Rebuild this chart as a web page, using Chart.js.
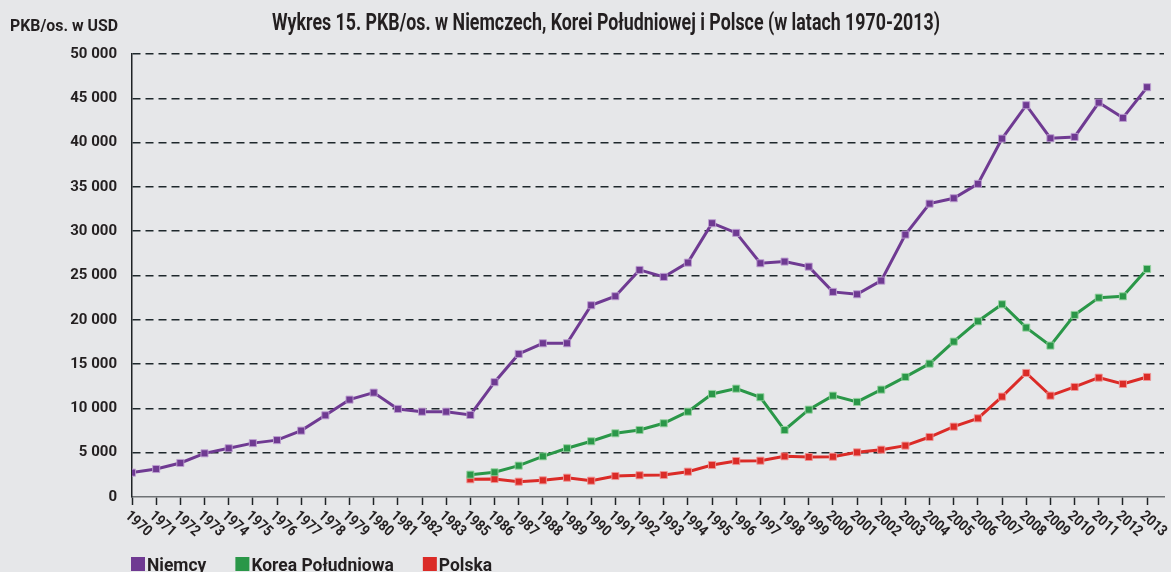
<!DOCTYPE html>
<html><head><meta charset="utf-8">
<script src="https://cdn.jsdelivr.net/npm/chart.js@4"></script>
<style>html,body{margin:0;padding:0;background:#e6e7e9;}canvas{display:block}</style>
</head><body>
<canvas id="c" width="1171" height="572"></canvas>
<script>
const years = ['1970','1971','1972','1973','1974','1975','1976','1977','1978','1979','1980','1981','1982','1983',
  '1985','1986','1987','1988','1989','1990','1991','1992','1993','1994','1995','1996','1997','1998','1999',
  '2000','2001','2002','2003','2004','2005','2006','2007','2008','2009','2010','2011','2012','2013'];
const niemcy = [2750,3160,3840,4930,5500,6080,6420,7490,9220,10990,11780,9940,9630,9630,
  9260,12960,16150,17350,17350,21640,22660,25630,24840,26450,30900,29810,26380,26570,26000,
  23150,22880,24420,29620,33110,33720,35340,40450,44220,40490,40640,44520,42790,46250];
const korea = [null,null,null,null,null,null,null,null,null,null,null,null,null,null,
  2520,2790,3540,4590,5500,6290,7190,7560,8320,9630,11630,12230,11260,7560,9860,
  11440,10730,12120,13550,15050,17540,19830,21750,19120,17090,20550,22500,22650,25740];
const polska = [null,null,null,null,null,null,null,null,null,null,null,null,null,null,
  2000,2030,1730,1880,2180,1840,2370,2450,2480,2860,3610,4060,4100,4590,4520,
  4550,5040,5340,5800,6770,7940,8880,11330,14000,11440,12420,13470,12760,13550];
const yTickValues = [0,5000,10000,15000,20000,25000,30000,35000,40000,45000,50000];
const seriesNames = ['Niemcy','Korea Południowa','Polska'];
const titleText = 'Wykres 15. PKB/os. w Niemczech, Korei Południowej i Polsce (w latach 1970-2013)';
const yAxisTitle = 'PKB/os. w USD';

const COLORS = ['#6f3a92','#2a9748','#db2b27'];
const BORDERS = ['rgba(190,160,210,0.9)','rgba(150,210,160,0.9)','rgba(240,150,150,0.9)'];
const FONT = 'Roboto, "Open Sans", sans-serif';
const TXT = '#231f20';

function toPoints(arr){ return arr.map((v,i)=>({x:i,y:v})); }
function fmt(v){ return String(v).replace(/\B(?=(\d{3})+(?!\d))/g,' '); }

const decor = {
  id:'decor',
  afterDraw(chart){
    const ctx = chart.ctx, xs = chart.scales.x, ca = chart.chartArea;
    ctx.save();
    ctx.fillStyle = TXT;
    ctx.textBaseline = 'alphabetic';
    ctx.font = `bold 23px ${FONT}`;
    ctx.textAlign = 'center';
    ctx.fillText(titleText, 606, 30, 668);
    ctx.font = `bold 17px ${FONT}`;
    ctx.textAlign = 'left';
    ctx.fillText(yAxisTitle, 10, 31, 108);
    // rotated x labels
    ctx.font = `bold 15px ${FONT}`;
    years.forEach((y,i)=>{
      const px = xs.getPixelForValue(i);
      ctx.save();
      ctx.translate(px-5, ca.bottom+17);
      ctx.rotate(42*Math.PI/180);
      ctx.textAlign='left'; ctx.textBaseline='middle';
      ctx.fillText(y,0,0,30);
      ctx.restore();
    });
    // legend
    ctx.font = `bold 18px ${FONT}`;
    ctx.textAlign='left'; ctx.textBaseline='alphabetic';
    let x = ca.left - 1;
    chart.data.datasets.forEach((ds,i)=>{
      ctx.fillStyle = ds.backgroundColor;
      ctx.fillRect(x, 557, 14, 14);
      const w = ctx.measureText(ds.label).width*0.97;
      ctx.fillStyle = TXT;
      ctx.fillText(ds.label, x+16, 571, w);
      x += 16 + w + 29;
    });
    ctx.restore();
  }
};

new Chart(document.getElementById('c'), {
  type:'line',
  data:{
    datasets:[niemcy,korea,polska].map((arr,i)=>({
      label: seriesNames[i],
      data: toPoints(arr),
      borderColor: COLORS[i],
      backgroundColor: COLORS[i],
      borderWidth: 3,
      tension: 0,
      pointStyle:'rect',
      pointRadius: 5,
      pointBackgroundColor: COLORS[i],
      pointBorderColor: BORDERS[i],
      pointBorderWidth: 1,
      fill:false
    }))
  },
  options:{
    responsive:false,
    animation:false,
    layout:{padding:{top:54,right:7,bottom:0,left:0}},
    plugins:{legend:{display:false},title:{display:false},tooltip:{enabled:false}},
    scales:{
      x:{
        type:'linear', min:0, max:42.7,
        afterBuildTicks(s){ s.ticks = years.map((_,i)=>({value:i})); },
        afterFit(s){ s.height = 75; },
        ticks:{display:false},
        grid:{drawOnChartArea:false, drawTicks:true, tickLength:8, tickColor:'#1e2326', tickWidth:1.5, color:'#1e2326'},
        border:{display:true, color:'#6e7275', width:1.5}
      },
      y:{
        min:0, max:50000,
        afterBuildTicks(s){ s.ticks = yTickValues.map(v=>({value:v})); },
        afterFit(s){ s.width = 132; },
        ticks:{padding:15, color:TXT, font:{family:FONT, size:15, weight:'bold'}, callback:(v)=>fmt(v)},
        grid:{drawTicks:false, lineWidth:1.5, color:(c)=> c.tick && c.tick.value===0 ? 'rgba(0,0,0,0)' : '#1e282c'},
        border:{display:true, color:'#1e2326', width:1.5, dash:[8,5]}
      }
    }
  },
  plugins:[decor]
});
</script>
</body></html>
